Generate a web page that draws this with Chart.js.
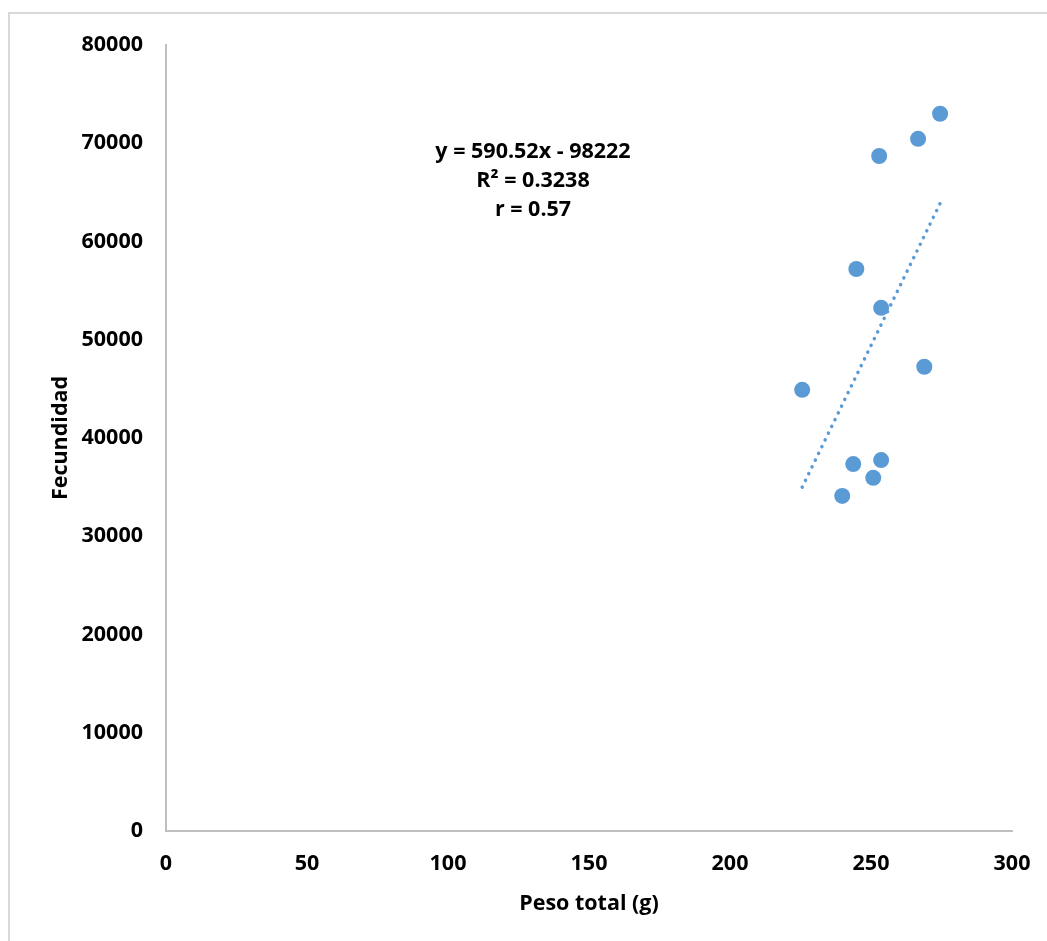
<!DOCTYPE html>
<html>
<head>
<meta charset="utf-8">
<script src="https://cdn.jsdelivr.net/npm/chart.js@4.4.1/dist/chart.umd.min.js"></script>
<style>
  html, body { margin: 0; padding: 0; background: #fff; }
  #wrap { position: relative; width: 1047px; height: 941px; }
</style>
</head>
<body>
<div id="wrap"><canvas id="fecChart"></canvas></div>
<script>
// Peso total (g) vs Fecundidad
const pesoTotal = [225.6, 239.8, 243.7, 244.8, 250.8, 252.9, 253.6, 253.6, 266.7, 268.9, 274.5];
const fecundidad = [44900, 34100, 37350, 57200, 35950, 68700, 53250, 37750, 70450, 47250, 73000];

const xTicks = [0, 50, 100, 150, 200, 250, 300];
const yTicks = [0, 10000, 20000, 30000, 40000, 50000, 60000, 70000, 80000];

// linear trend as printed on the chart
const slope = 590.52;
const intercept = -98222;
const trendX = [Math.min(...pesoTotal), Math.max(...pesoTotal)];
const trendPoints = trendX.map(x => ({ x: x, y: slope * x + intercept }));

const eqLines = ['y = 590.52x - 98222', 'R² = 0.3238', 'r = 0.57'];

const blue = '#5b9bd5';
const axisGray = '#bfbfbf';
const font = '"Open Sans", sans-serif';
const fontSize = 21.5;

const frame = {
    id: 'frame',
    beforeDraw(chart) {
        const c = chart.ctx;
        c.save();
        c.strokeStyle = '#d9d9d9';
        c.lineWidth = 2;
        c.beginPath();
        c.moveTo(9, 941);
        c.lineTo(9, 13);
        c.lineTo(1047, 13);
        c.stroke();
        c.restore();
    }
};

const equation = {
    id: 'equation',
    afterDraw(chart) {
        const c = chart.ctx;
        const a = chart.chartArea;
        c.save();
        c.fillStyle = '#000';
        c.font = 'bold ' + fontSize + 'px ' + font;
        c.textAlign = 'center';
        c.textBaseline = 'middle';
        eqLines.forEach((t, i) => {
            c.fillText(t, a.left + 367, a.top + 107 + i * 29);
        });
        c.restore();
    }
};

const ctx = document.getElementById('fecChart');

new Chart(ctx, {
    type: 'scatter',
    data: {
        datasets: [{
            label: 'Fecundidad',
            data: pesoTotal.map((x, i) => ({ x: x, y: fecundidad[i] })),
            backgroundColor: blue,
            borderColor: blue,
            pointRadius: 8,
            pointHoverRadius: 8,
            borderWidth: 0
        }, {
            label: 'Tendencia',
            type: 'line',
            data: trendPoints,
            borderColor: blue,
            borderWidth: 3.5,
            borderDash: [0.1, 7.4],
            borderCapStyle: 'round',
            pointRadius: 0,
            fill: false
        }]
    },
    options: {
        responsive: true,
        maintainAspectRatio: false,
        animation: false,
        layout: { padding: { top: 45, right: 35, left: 0, bottom: 0 } },
        plugins: {
            legend: { display: false },
            tooltip: { enabled: false }
        },
        scales: {
            x: {
                type: 'linear',
                min: 0,
                max: 300,
                afterBuildTicks: s => { s.ticks = xTicks.map(v => ({ value: v })); },
                afterFit: s => { s.height = 110; s.paddingLeft = 0; s.paddingRight = 0; },
                grid: { display: false, drawTicks: false },
                border: { color: axisGray, width: 2 },
                ticks: {
                    color: '#000',
                    padding: 20,
                    callback: v => String(v),
                    font: { family: font, size: fontSize, weight: 'bold' }
                },
                title: {
                    display: true,
                    text: 'Peso total (g)',
                    color: '#000',
                    padding: { top: 0, bottom: 24 },
                    font: { family: font, size: fontSize, weight: 'bold' }
                }
            },
            y: {
                min: 0,
                max: 80000,
                afterBuildTicks: s => { s.ticks = yTicks.map(v => ({ value: v })); },
                afterFit: s => { s.width = 166; s.paddingTop = 0; s.paddingBottom = 0; },
                grid: { display: false, drawTicks: false },
                border: { color: axisGray, width: 2 },
                ticks: {
                    color: '#000',
                    padding: 23,
                    callback: v => String(v),
                    font: { family: font, size: fontSize, weight: 'bold' }
                },
                title: {
                    display: true,
                    text: 'Fecundidad',
                    color: '#000',
                    padding: { top: 48, bottom: 0 },
                    font: { family: font, size: fontSize, weight: 'bold' }
                }
            }
        }
    },
    plugins: [frame, equation]
});
</script>
</body>
</html>
